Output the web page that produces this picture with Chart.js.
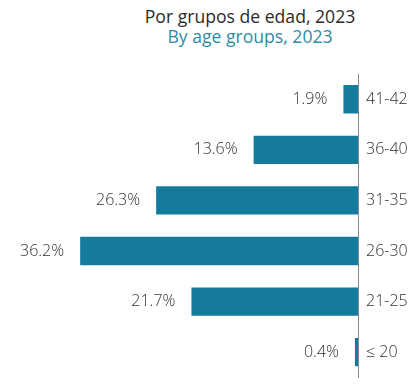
<!DOCTYPE html>
<html>
<head>
<meta charset="utf-8">
<script src="https://cdn.jsdelivr.net/npm/chart.js@4.4.1/dist/chart.umd.min.js"></script>
<style>
  html, body { margin: 0; padding: 0; background: #fff; overflow: hidden; }
  #wrap { position: relative; width: 415px; height: 392px; }
  #head {
    position: absolute; left: 100px; top: 6px; width: 300px;
    text-align: center; font-family: "Open Sans", sans-serif;
    font-size: 17.6px; line-height: 20px; font-weight: 500;
  }
  #head .es { color: #2b2b2b; }
  #head .en { color: #2f8ca5; }
  #bars { position: absolute; left: 0; top: 0; }
</style>
</head>
<body>
<div id="wrap">
  <div id="head">
    <div class="es">Por grupos de edad, 2023</div>
    <div class="en">By age groups, 2023</div>
  </div>
  <canvas id="bars" width="415" height="395"></canvas>
</div>
<script>
// Age groups, oldest on top
const ageGroups = ['41-42', '36-40', '31-35', '26-30', '21-25', '≤ 20'];
const shares = [1.9, 13.6, 26.3, 36.2, 21.7, 0.4];

const barColor = '#157b9c';
const textColor = '#333333';
const labelFont = { family: '"Open Sans", sans-serif', size: 16, weight: '300' };

// Percent labels to the left of each bar
const shareLabels = {
    id: 'shareLabels',
    afterDatasetsDraw(chart) {
        const ctx = chart.ctx;
        const meta = chart.getDatasetMeta(0);
        ctx.save();
        ctx.font = labelFont.weight + ' ' + labelFont.size + 'px ' + labelFont.family;
        ctx.fillStyle = textColor;
        ctx.textAlign = 'right';
        ctx.textBaseline = 'middle';
        meta.data.forEach(function(bar, i) {
            const left = Math.min(bar.x, bar.base);
            ctx.fillText(shares[i].toFixed(1) + '%', left - 16, bar.y);
        });
        ctx.restore();
    }
};

new Chart(document.getElementById('bars'), {
    type: 'bar',
    data: {
        labels: ageGroups,
        datasets: [{
            data: shares,
            backgroundColor: barColor,
            borderWidth: 0,
            barPercentage: 0.56,
            categoryPercentage: 1
        }]
    },
    options: {
        indexAxis: 'y',
        responsive: false,
        animation: false,
        layout: { padding: { top: 74, left: 51, right: 0, bottom: 0 } },
        plugins: {
            legend: { display: false },
            tooltip: { enabled: false }
        },
        scales: {
            x: {
                display: false,
                reverse: true,
                min: 0,
                max: 40
            },
            y: {
                position: 'right',
                afterFit: function(scale) { scale.width = 57; },
                grid: { display: true, color: 'rgba(0,0,0,0)', drawTicks: false },
                border: { display: true, color: '#8a8a8a', width: 1 },
                ticks: {
                    padding: 8,
                    color: textColor,
                    font: labelFont
                }
            }
        }
    },
    plugins: [shareLabels]
});
</script>
</body>
</html>
